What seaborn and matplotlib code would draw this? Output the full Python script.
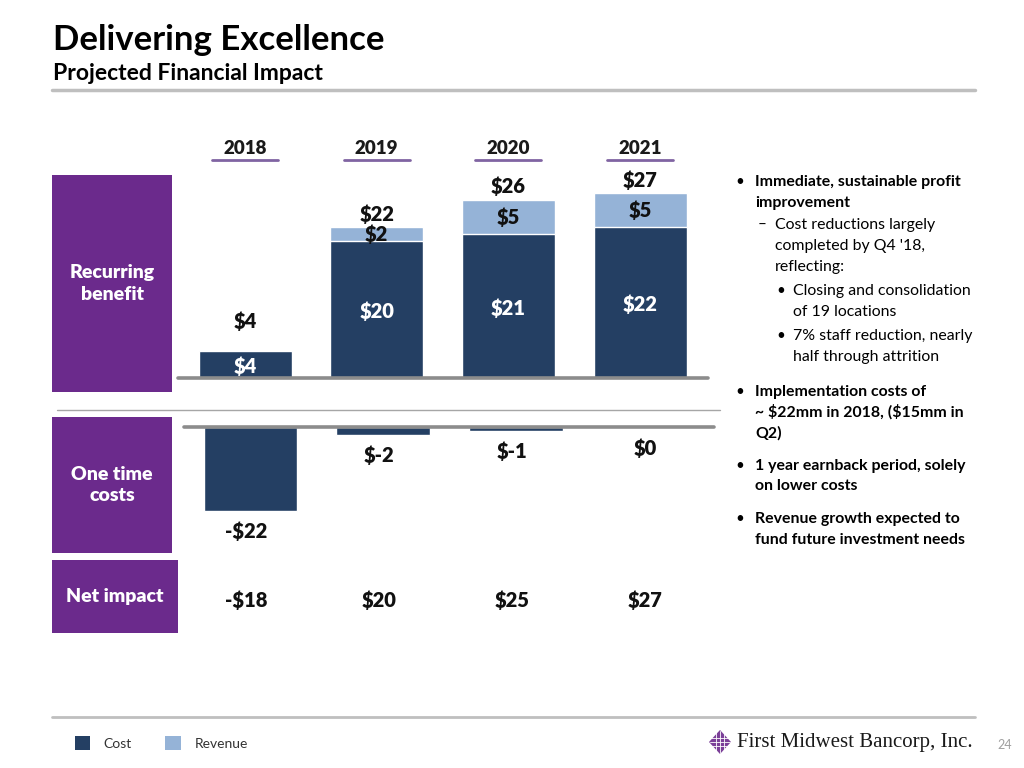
import numpy as np
import pandas as pd
import matplotlib
matplotlib.use("Agg")
import matplotlib.pyplot as plt
import matplotlib.transforms as mtransforms
from matplotlib.patches import Rectangle, Polygon, Patch
from matplotlib.lines import Line2D
import seaborn as sns

# ---------------- data ----------------
years = ["2018", "2019", "2020", "2021"]
recurring_cost = [4, 20, 21, 22]
recurring_revenue = [0, 2, 5, 5]
one_time_costs = [-22, -2, -1, 0]
one_time_labels = ["-$22", "$-2", "$-1", "$0"]
net_impact = [-18, 20, 25, 27]
legend_labels = ["Cost", "Revenue"]

df = pd.DataFrame({"year": years, "cost": recurring_cost,
                   "revenue": recurring_revenue, "one_time": one_time_costs,
                   "net": net_impact})
df["total"] = df["cost"] + df["revenue"]

# ---------------- style ----------------
sns.set_theme(style="white")
plt.rcParams["font.family"] = ["Lato", "DejaVu Sans"]

NAVY = "#243F63"
LIGHT = "#95B3D7"
PURPLE = "#6B2A8C"
ULINE = "#8064A2"
AXGRAY = "#8C8C8C"
RULE = "#BFBFBF"

W, H = 1024, 768
fig = plt.figure(figsize=(10.24, 7.68), dpi=100)


def fx(px):
    return px / W


def fy(py):
    return 1 - py / H


# ---------------- header ----------------
fig.text(fx(53), fy(50), "Delivering Excellence", fontsize=25, fontweight="bold",
         color="#000000", va="baseline", ha="left")
fig.text(fx(53), fy(80), "Projected Financial Impact", fontsize=16.5, fontweight="bold",
         color="#000000", va="baseline", ha="left")
fig.add_artist(Line2D([fx(52), fx(975)], [fy(90), fy(90)], color=RULE, lw=2.5,
                      transform=fig.transFigure))

# ---------------- recurring benefit (stacked) ----------------
ax1 = fig.add_axes([fx(178), fy(378), (708 - 178) / W, (378 - 175) / H])
sns.barplot(data=df, x="year", y="total", color=LIGHT, saturation=1, width=0.706,
            errorbar=None, ax=ax1)
sns.barplot(data=df, x="year", y="cost", color=NAVY, saturation=1, width=0.706,
            errorbar=None, ax=ax1, edgecolor="white", linewidth=1.0)
ax1.axhline(0, color=AXGRAY, lw=2.6, zorder=5, clip_on=False)
ax1.set_xlim(-0.509, 3.516)
ax1.set_ylim(0, 29.6)
ax1.axis("off")

lbl = dict(fontsize=14.5, fontweight="heavy", ha="center", va="center", parse_math=False)
for i, r in df.iterrows():
    ax1.text(i, r["cost"] / 2 - 0.3, f"${r['cost']}", color="white", **lbl)
    if r["revenue"] > 0:
        ax1.text(i, r["cost"] + r["revenue"] / 2, f"${r['revenue']}", color="#111111", **lbl)
    ax1.text(i, max(r["total"] + 1.9, 8.3), f"${r['total']}", color="#111111",
             clip_on=False, **lbl)

# year headers with purple underline
tr_hdr = mtransforms.blended_transform_factory(ax1.transData, fig.transFigure)
for i, y in enumerate(years):
    fig.text(i, fy(148), y, transform=tr_hdr, fontsize=13.5, fontweight="heavy",
             color="#1a1a1a", ha="center", va="center")
    fig.add_artist(Line2D([i - 0.25, i + 0.25], [fy(160), fy(160)], color=ULINE,
                          lw=2, transform=tr_hdr))

# separator line
fig.add_artist(Line2D([fx(57), fx(720)], [fy(410), fy(410)], color="#A6A6A6", lw=1,
                      transform=fig.transFigure))

# ---------------- one-time costs ----------------
ax2 = fig.add_axes([fx(184), fy(560), 530 / W, (560 - 420) / H])
sns.barplot(data=df, x="year", y="one_time", color=NAVY, saturation=1, width=0.706,
            errorbar=None, ax=ax2)
ax2.axhline(0, color=AXGRAY, lw=2.6, zorder=5, clip_on=False)
ax2.set_xlim(-0.5, 3.49)
ax2.set_ylim(-35.0, 1.84)
ax2.axis("off")
for i, r in df.iterrows():
    ax2.text(i - 0.03, r["one_time"] - 5.5, one_time_labels[i], color="#111111",
             clip_on=False, **lbl)

# net impact row
tr_net = mtransforms.blended_transform_factory(ax2.transData, fig.transFigure)
for i, r in df.iterrows():
    v = r["net"]
    s = f"-${abs(v)}" if v < 0 else f"${v}"
    fig.text(i - 0.03, fy(600), s, transform=tr_net, color="#111111", **lbl)

# ---------------- purple row boxes ----------------
boxes = [(52, 175, 172, 392, "Recurring\nbenefit"),
         (52, 417, 172, 553, "One time\ncosts"),
         (52, 560, 178, 633, "Net impact")]
for x0, y0, x1, y1, t in boxes:
    fig.add_artist(Rectangle((fx(x0), fy(y1)), (x1 - x0) / W, (y1 - y0) / H,
                             transform=fig.transFigure, facecolor=PURPLE, edgecolor="none"))
    fig.text(fx((x0 + x1) / 2), fy((y0 + y1) / 2), t, color="white", fontsize=14,
             fontweight="heavy", ha="center", va="center", linespacing=1.35)

# ---------------- right-side bullets ----------------
bullets = [
    (740, 755, 182, "•", "Immediate, sustainable profit", True),
    (None, 755, 203, None, "improvement", True),
    (762, 775, 225, "–", "Cost reductions largely", False),
    (None, 775, 246, None, "completed by Q4 '18,", False),
    (None, 775, 267, None, "reflecting:", False),
    (781, 793, 291, "•", "Closing and consolidation", False),
    (None, 793, 312, None, "of 19 locations", False),
    (781, 793, 336, "•", "7% staff reduction, nearly", False),
    (None, 793, 357, None, "half through attrition", False),
    (740, 755, 392, "•", "Implementation costs of", True),
    (None, 755, 412, None, "~ $22mm in 2018, ($15mm in", True),
    (None, 755, 433, None, "Q2)", True),
    (740, 755, 466, "•", "1 year earnback period, solely", True),
    (None, 755, 486, None, "on lower costs", True),
    (740, 755, 519, "•", "Revenue growth expected to", True),
    (None, 755, 540, None, "fund future investment needs", True),
]
for bx, tx, ty, b, t, bold in bullets:
    w = "bold" if bold else "normal"
    if b is not None:
        fig.text(fx(bx), fy(ty), b, fontsize=11, fontweight="normal", color="#000000",
                 ha="center", va="center")
    fig.text(fx(tx), fy(ty), t, fontsize=11.4, fontweight=w, color="#000000",
             ha="left", va="center", parse_math=False)

# ---------------- footer ----------------
fig.add_artist(Line2D([fx(52), fx(975)], [fy(717), fy(717)], color=RULE, lw=2,
                      transform=fig.transFigure))
handles = [Patch(facecolor=NAVY, edgecolor="none"), Patch(facecolor=LIGHT, edgecolor="none")]
fig.legend(handles, legend_labels, loc="center left", bbox_to_anchor=(fx(62), fy(743)),
           ncol=2, frameon=False, fontsize=10, handlelength=1.1, handleheight=1.1,
           handletextpad=1.0, columnspacing=2.4, labelcolor="#333333")

# logo
cx, cy = 720, 742
fig.add_artist(Polygon([[fx(cx), fy(cy - 12)], [fx(cx + 11), fy(cy)],
                        [fx(cx), fy(cy + 12)], [fx(cx - 11), fy(cy)]],
                       closed=True, transform=fig.transFigure, facecolor="#7B3F98",
                       edgecolor="none"))
for d in (-4, 0, 4):
    fig.add_artist(Line2D([fx(cx - 10), fx(cx + 10)], [fy(cy + d), fy(cy + d)],
                          color="white", lw=0.6, transform=fig.transFigure))
    fig.add_artist(Line2D([fx(cx + d), fx(cx + d)], [fy(cy - 11), fy(cy + 11)],
                          color="white", lw=0.6, transform=fig.transFigure))
fig.text(fx(737), fy(742), "First Midwest Bancorp, Inc.", fontsize=15,
         family=["Liberation Serif", "DejaVu Serif"], color="#1a1a1a",
         ha="left", va="center")
fig.text(fx(1005), fy(745), "24", fontsize=9, color="#A0A0A0", ha="center", va="center")

fig.savefig("out.png", dpi=100, facecolor="white")
